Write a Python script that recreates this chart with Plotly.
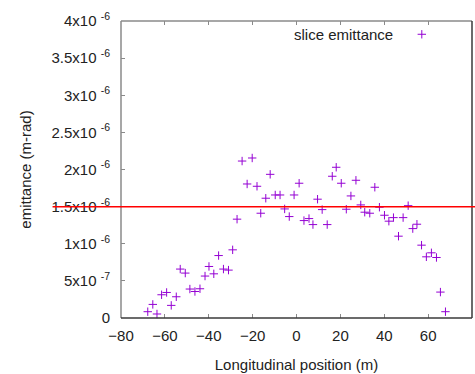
import plotly.graph_objects as go

# Data (x in m, emittance in m-rad)
positions = [-67.8, -65.5, -63.6, -61.5, -59.2, -57.1, -54.8, -53.0, -50.7, -48.6,
             -46.3, -44.0, -41.7, -39.9, -37.7, -35.5, -33.3, -31.0, -29.1, -27.1,
             -24.8, -22.5, -20.2, -18.0, -16.3, -14.0, -12.0, -9.7, -7.5, -5.4,
             -3.3, -1.1, 1.2, 3.4, 5.7, 7.5, 9.6, 11.7, 14.0, 16.3,
             18.1, 20.4, 22.7, 24.8, 27.1, 29.3, 31.1, 33.4, 35.7, 37.8,
             40.1, 42.1, 44.2, 46.5, 48.6, 50.9, 53.0, 54.9, 57.0, 59.2,
             61.5, 63.8, 65.6, 67.9]
emittance_e6 = [0.085, 0.183, 0.054, 0.313, 0.344, 0.170, 0.286, 0.659, 0.605, 0.390,
                0.357, 0.394, 0.565, 0.694, 0.595, 0.841, 0.659, 0.645, 0.918, 1.331,
                2.114, 1.805, 2.155, 1.774, 1.411, 1.613, 1.935, 1.657, 1.657, 1.469,
                1.366, 1.657, 1.815, 1.312, 1.339, 1.258, 1.600, 1.460, 1.258, 1.909,
                2.030, 1.815, 1.465, 1.644, 1.855, 1.523, 1.425, 1.411, 1.761, 1.492,
                1.384, 1.304, 1.352, 1.102, 1.352, 1.513, 1.204, 1.263, 0.981, 0.824,
                0.878, 0.815, 0.349, 0.085]
emittance = [v * 1e-6 for v in emittance_e6]

threshold = 1.5e-6
series_name = "slice emittance"

y_tickvals = [0, 0.5e-6, 1e-6, 1.5e-6, 2e-6, 2.5e-6, 3e-6, 3.5e-6, 4e-6]
y_ticktext = ["0", "5x10 <sup>-7</sup>", "1x10 <sup>-6</sup>", "1.5x10 <sup>-6</sup>",
              "2x10 <sup>-6</sup>", "2.5x10 <sup>-6</sup>", "3x10 <sup>-6</sup>",
              "3.5x10 <sup>-6</sup>", "4x10 <sup>-6</sup>"]
x_tickvals = [-80, -60, -40, -20, 0, 20, 40, 60, 80]

FONT = "Liberation Sans"
TXT = "#222222"
GRAY = "#8a8a8a"
DARK = "#3a3a3a"
PURPLE = "#9400d3"

fig = go.Figure()
fig.add_trace(go.Scatter(
    x=positions, y=emittance, mode="markers", name="",
    marker=dict(symbol="cross-thin", size=6, color=PURPLE,
                line=dict(color=PURPLE, width=1)),
    cliponaxis=False,
))

fig.update_layout(
    width=475, height=374,
    margin=dict(l=121, r=3, t=21, b=56, pad=0),
    paper_bgcolor="white", plot_bgcolor="white",
    font=dict(family=FONT, size=15, color=TXT),
    showlegend=True,
    legend=dict(x=0.80, y=1.01, xanchor="left", yanchor="top",
                bgcolor="rgba(0,0,0,0)", borderwidth=0,
                font=dict(family=FONT, size=15, color=TXT)),
    xaxis=dict(range=[-80, 80], tickvals=x_tickvals, ticks="inside", ticklen=4,
               tickcolor=GRAY, showline=False, showgrid=False, zeroline=False,
               mirror="ticks",
               title=dict(text="Longitudinal position (m)", standoff=16,
                          font=dict(family=FONT, size=15, color=TXT)),
               tickfont=dict(family=FONT, size=15, color=TXT), ticklabelstandoff=7),
    yaxis=dict(range=[0, 4e-6], tickvals=y_tickvals, ticktext=y_ticktext,
               ticks="inside", ticklen=4, tickcolor=GRAY, showline=False,
               showgrid=False, zeroline=False,
               title=dict(text="emittance (m-rad)", standoff=16,
                          font=dict(family=FONT, size=15, color=TXT)),
               tickfont=dict(family=FONT, size=15, color=TXT), ticklabelstandoff=10),
    annotations=[dict(text=series_name, xref="paper", yref="paper", x=0.781, y=0.956,
                      xanchor="right", yanchor="middle", showarrow=False,
                      font=dict(family=FONT, size=15, color=TXT))],
)

# frame
fig.add_shape(type="line", xref="paper", yref="paper", x0=0, x1=0, y0=0, y1=1,
              line=dict(color=GRAY, width=1.5))
fig.add_shape(type="line", xref="paper", yref="paper", x0=0, x1=1, y0=1, y1=1,
              line=dict(color=GRAY, width=1.5))
fig.add_shape(type="line", xref="paper", yref="paper", x0=0, x1=1, y0=0, y1=0,
              line=dict(color=DARK, width=1.5))
fig.add_shape(type="line", xref="paper", yref="paper", x0=1, x1=1, y0=0, y1=1,
              line=dict(color=DARK, width=1.5))

# threshold line
fig.add_shape(type="line", xref="paper", yref="y", x0=-0.195, x1=1.02,
              y0=threshold, y1=threshold, line=dict(color="#ff0000", width=1.5))

fig.write_html("out.html")
